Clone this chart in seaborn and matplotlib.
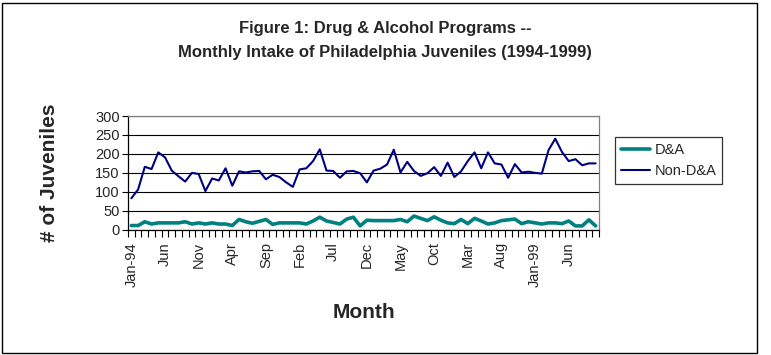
import numpy as np
import pandas as pd
import matplotlib
matplotlib.use("Agg")
import matplotlib.pyplot as plt
from matplotlib.patches import Rectangle
import seaborn as sns

# monthly categories, Jan 1994 .. Oct 1999
months = pd.date_range("1994-01-01", periods=70, freq="MS")

# values
dna = [11, 11, 21, 15, 18, 18, 18, 18, 21, 15,
       18, 15, 18, 15, 15, 11, 27, 21, 17, 22,
       27, 14, 18, 18, 18, 18, 15, 23, 33, 23,
       19, 15, 28, 33, 10, 25, 24, 24, 24, 24,
       27, 21, 36, 30, 24, 34, 25, 18, 16, 27,
       16, 30, 23, 15, 18, 24, 26, 28, 16, 21,
       18, 15, 18, 18, 16, 23, 10, 10, 26, 10]
non_dna = [83, 106, 166, 160, 204, 191, 156, 141, 127, 150,
           147, 102, 135, 130, 162, 116, 154, 151, 154, 155,
           133, 145, 139, 125, 113, 159, 162, 181, 212, 156,
           155, 137, 154, 155, 149, 125, 156, 161, 172, 211,
           151, 179, 155, 142, 149, 165, 142, 177, 139, 154,
           181, 204, 162, 204, 175, 172, 137, 173, 151, 153,
           150, 148, 210, 240, 205, 181, 186, 170, 175, 175]

tick_labels = ["Jan-94", "Jun", "Nov", "Apr", "Sep", "Feb", "Jul",
               "Dec", "May", "Oct", "Mar", "Aug", "Jan-99", "Jun"]
series_names = ["D&A", "Non-D&A"]
series_colors = ["#008080", "#000080"]

df = pd.DataFrame({
    "idx": np.tile(np.arange(len(months)), 2),
    "Month": np.tile(months, 2),
    "value": dna + non_dna,
    "series": [series_names[0]] * len(dna) + [series_names[1]] * len(non_dna),
})

sns.set_style("white")
plt.rcParams["font.family"] = ["Liberation Sans", "DejaVu Sans"]

fig = plt.figure(figsize=(7.71, 3.55), dpi=100)
ax = fig.add_axes([128 / 771, 1 - 229.7 / 355, 471 / 771, 113.7 / 355])

sns.lineplot(data=df, x="idx", y="value", hue="series", hue_order=series_names,
             palette=series_colors, ax=ax, legend=False)
ax.lines[0].set_linewidth(2.6)
ax.lines[1].set_linewidth(1.5)

ax.set_xlim(-0.5, len(months) - 0.5)
ax.set_ylim(0, 300)
ax.set_yticks(range(0, 301, 50))
ax.yaxis.grid(True, color="black", linewidth=0.8)
ax.set_axisbelow(True)
ax.tick_params(axis="y", length=4, width=0.8, color="black", labelsize=10.5,
               pad=2, left=True)

# category boundaries get tick marks, labels every 5th month
ax.set_xticks(np.arange(-0.5, len(months), 1.0))
ax.set_xticklabels([])
ax.tick_params(axis="x", which="major", length=5, width=0.8, color="black",
               bottom=True, direction="out")
ax.set_xticks(np.arange(0, len(months), 5), minor=True)
ax.set_xticklabels(tick_labels, minor=True, rotation=90, fontsize=10.5)
ax.tick_params(axis="x", which="minor", length=0, pad=9)

for s in ["left", "bottom"]:
    ax.spines[s].set_color("black")
    ax.spines[s].set_linewidth(0.9)
for s in ["top", "right"]:
    ax.spines[s].set_color("#808080")
    ax.spines[s].set_linewidth(0.9)

ax.set_xlabel("Month", fontsize=15, fontweight="bold", labelpad=12)
ax.set_ylabel("# of Juveniles", fontsize=15, fontweight="bold", labelpad=26)

fig.text(385 / 771, 1 - 29 / 355, "Figure 1: Drug & Alcohol Programs --",
         ha="center", va="center", fontsize=12, fontweight="bold")
fig.text(385 / 771, 1 - 53 / 355,
         "Monthly Intake of Philadelphia Juveniles (1994-1999)",
         ha="center", va="center", fontsize=12, fontweight="bold")

handles = [plt.Line2D([], [], color=series_colors[0], linewidth=2.6),
           plt.Line2D([], [], color=series_colors[1], linewidth=1.5)]
leg = ax.legend(handles, series_names, loc="upper left",
                bbox_to_anchor=(615 / 771, 1 - 137 / 355),
                bbox_transform=fig.transFigure, borderaxespad=0,
                fontsize=10.5, frameon=True, fancybox=False,
                handlelength=2.0, handletextpad=0.3, borderpad=0.4,
                labelspacing=0.5)
leg.get_frame().set_edgecolor("black")
leg.get_frame().set_linewidth(0.9)

fig.patches.append(Rectangle((2 / 771, 2 / 355), 755 / 771, 350 / 355,
                             transform=fig.transFigure, fill=False,
                             edgecolor="black", linewidth=1.0))

fig.savefig("out.png", dpi=100)
